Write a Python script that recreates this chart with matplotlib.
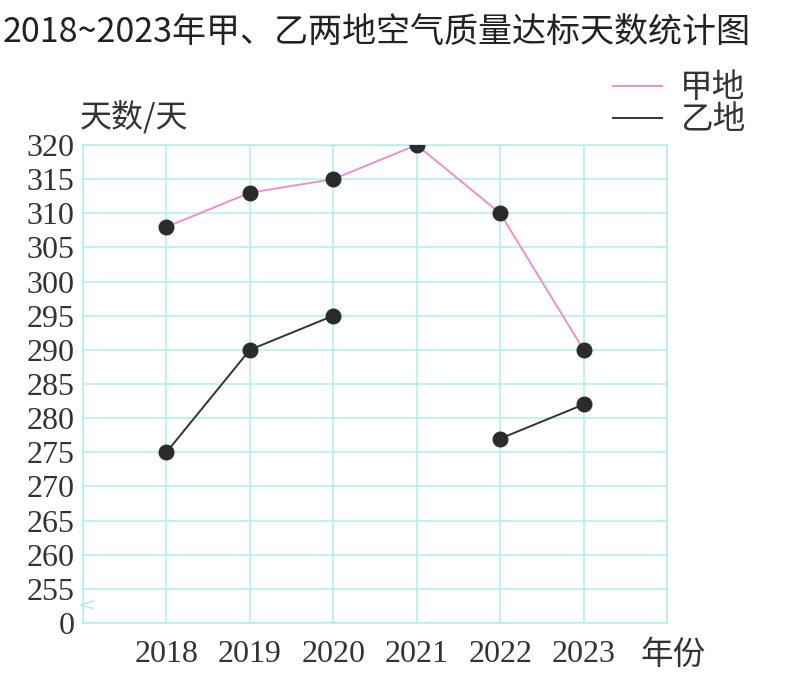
import matplotlib.pyplot as plt
import numpy as np

years = [2018, 2019, 2020, 2021, 2022, 2023]
jia = [308, 313, 315, 320, 310, 290]
yi = [275, 290, 295, np.nan, 277, 282]
ytick_vals = [0, 255, 260, 265, 270, 275, 280, 285, 290, 295, 300, 305, 310, 315, 320]

# the 0 tick sits one step below 255 (broken axis)
def ypos(v):
    return 250 if v == 0 else v

cjk = ['Noto Sans CJK SC', 'DejaVu Sans']
serif = 'Liberation Serif'
grid_c = '#b0eef0'

fig = plt.figure(figsize=(7.93, 6.86), dpi=100)
ax = fig.add_axes([83 / 793, 1 - 623 / 686, (667 - 83) / 793, (623 - 145) / 686])

ax.plot(years, jia, color='#ec8fd0', lw=1.4, label='甲地', zorder=3)
ax.plot(years, yi, color='#333333', lw=1.4, label='乙地', zorder=3)
ax.plot(years, jia, 'o', color='#2b2b2b', ms=10.5, zorder=4)
ax.plot(years, yi, 'o', color='#2b2b2b', ms=10.5, zorder=4)

ax.set_xlim(2017, 2024)
ax.set_ylim(250, 320)
ax.set_xticks(range(2017, 2025))
ax.set_xticklabels([''] + [str(y) for y in years] + [''], fontfamily=serif, fontsize=23)
ax.set_yticks([ypos(v) for v in ytick_vals])
ax.set_yticklabels([str(v) for v in ytick_vals], fontfamily=serif, fontsize=23)
ax.tick_params(length=0, pad=6, colors='#333333')
ax.tick_params(axis='x', pad=12)
ax.grid(True, color=grid_c, lw=1.1)
for s in ax.spines.values():
    s.set_color(grid_c)
    s.set_linewidth(1.1)

# axis break mark
ax.plot([0.018, -0.004, 0.018], [0.046, 0.038, 0.030], transform=ax.transAxes,
        color=grid_c, lw=1.1, clip_on=False)

fig.text(0.003, 0.953, '2018~2023年甲、乙两地空气质量达标天数统计图', family=cjk,
         fontsize=24.5, color='#222222', va='center', ha='left')
fig.text(80 / 793, 1 - 118 / 686, '天数/天', family=cjk, fontsize=23, color='#333333',
         va='center', ha='left', fontweight='light')
fig.text(640 / 793, 1 - 655 / 686, '年份', family=cjk, fontsize=23.5, color='#333333',
         va='center', ha='left', fontweight='light')

leg = ax.legend(loc='upper left', bbox_to_anchor=(584 / 793, 1 - 43 / 686),
                bbox_transform=fig.transFigure, frameon=False, handlelength=1.5,
                handletextpad=0.55, labelspacing=0.0, prop={'family': cjk, 'size': 23.5})
for t in leg.get_texts():
    t.set_color('#333333')

fig.savefig('out.png', dpi=100)
